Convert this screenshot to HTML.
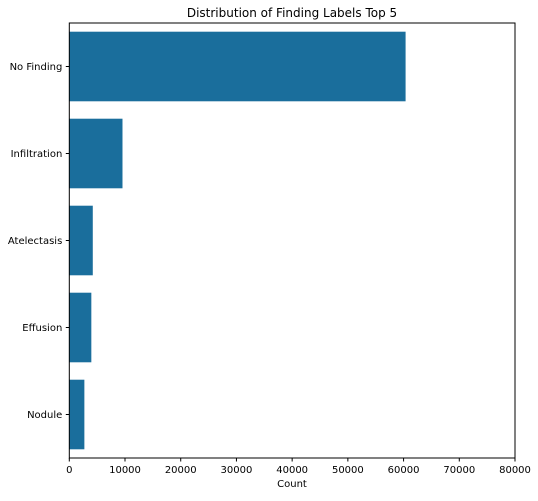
<!DOCTYPE html>
<html><head><meta charset="utf-8"><style>
body{margin:0;background:#fff;}
svg text{font-family:"DejaVu Sans","Liberation Sans",sans-serif;fill:#000;}
</style></head><body>
<svg id="chart" width="538" height="496" xmlns="http://www.w3.org/2000/svg">
<rect width="538" height="496" fill="#fff"/>
<text x="292" y="17" font-size="12" text-anchor="middle">Distribution of Finding Labels Top 5</text>
<g id="bars"></g>
<g id="xaxis"></g>
<g id="yaxis"></g>
<rect x="69.3" y="23" width="445.7" height="435" fill="none" stroke="#000" stroke-width="1"/>
<text x="292" y="487" font-size="10" text-anchor="middle">Count</text>
</svg>
<script>
const categories = ["No Finding","Infiltration","Atelectasis","Effusion","Nodule"];
const counts = [60361, 9547, 4215, 3955, 2705];
const xTicks = [0,10000,20000,30000,40000,50000,60000,70000,80000];
const xMax = 80000;
const L=69.3,R=515,T=23,B=458;
const ns="http://www.w3.org/2000/svg";
const xs=v=>L+(v/xMax)*(R-L);
const band=(B-T)/categories.length;
const yc=i=>T+band*(i+0.5);
const bars=document.getElementById('bars'),xa=document.getElementById('xaxis'),ya=document.getElementById('yaxis');
function mk(t,a){const e=document.createElementNS(ns,t);for(const k in a)e.setAttribute(k,a[k]);return e;}
categories.forEach((c,i)=>{
  const h=band*0.8;
  const r=mk('rect',{x:L,y:yc(i)-h/2,width:xs(counts[i])-L,height:h,fill:'#1a6e9c'});
  
  
  bars.appendChild(r);
  const tk=mk('line',{x1:L-3.5,x2:L,y1:yc(i),y2:yc(i),stroke:'#000'});
  
  
  ya.appendChild(tk);
  const t=mk('text',{x:L-7,y:yc(i)+3.5,'font-size':10,'text-anchor':'end'});
  t.textContent=c;
  
  
  ya.appendChild(t);
});
xTicks.forEach(v=>{
  const tk=mk('line',{x1:xs(v),x2:xs(v),y1:B,y2:B+3.5,stroke:'#000'});
  
  
  xa.appendChild(tk);
  const t=mk('text',{x:xs(v),y:B+15,'font-size':10,'text-anchor':'middle'});
  t.textContent=v;
  
  
  xa.appendChild(t);
});
</script>
</body></html>
